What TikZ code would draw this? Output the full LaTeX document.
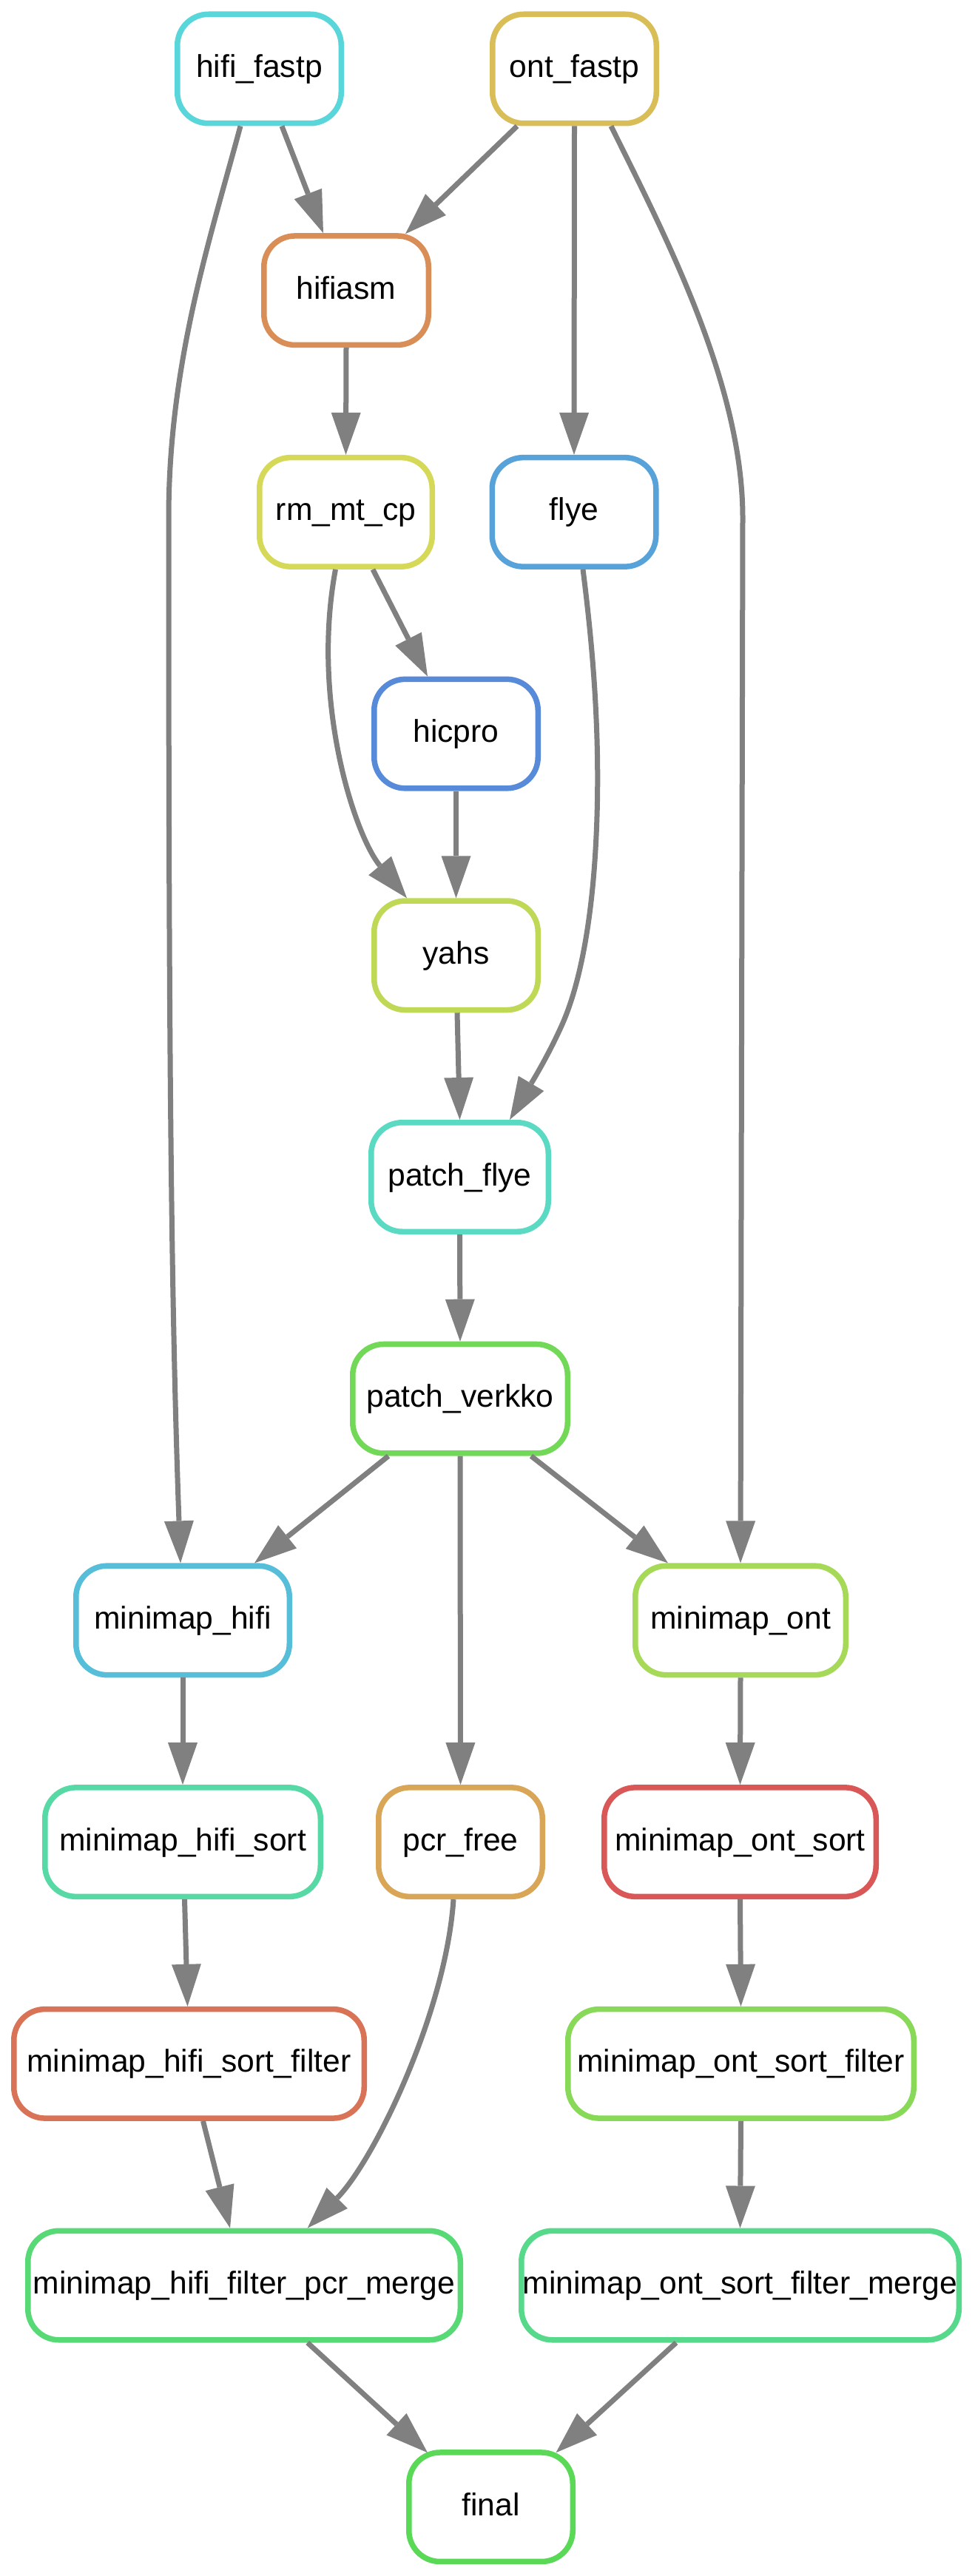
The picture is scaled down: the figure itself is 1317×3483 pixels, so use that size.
\documentclass[tikz,border=0pt]{standalone}
\usepackage{fontspec}
\setmainfont{Liberation Sans}
\usetikzlibrary{arrows.meta,calc}

% rule colours (HSV hues at s=0.6, v=0.85)
\definecolor{cHifiFastp}{RGB}{88,214,217}
\definecolor{cOntFastp}{RGB}{217,190,87}
\definecolor{cHifiasm}{RGB}{217,141,87}
\definecolor{cRmMtCp}{RGB}{214,217,87}
\definecolor{cFlye}{RGB}{87,162,217}
\definecolor{cHicpro}{RGB}{87,139,217}
\definecolor{cYahs}{RGB}{191,217,87}
\definecolor{cPatchFlye}{RGB}{90,217,195}
\definecolor{cPatchVerkko}{RGB}{113,217,87}
\definecolor{cMiniHifi}{RGB}{87,190,217}
\definecolor{cMiniOnt}{RGB}{166,217,87}
\definecolor{cHifiSort}{RGB}{87,217,165}
\definecolor{cPcrFree}{RGB}{217,166,87}
\definecolor{cOntSort}{RGB}{217,87,87}
\definecolor{cHifiSortFilter}{RGB}{217,115,87}
\definecolor{cOntSortFilter}{RGB}{136,217,87}
\definecolor{cHifiMerge}{RGB}{87,217,118}
\definecolor{cOntMerge}{RGB}{87,217,140}
\definecolor{cFinal}{RGB}{90,217,87}
\definecolor{linkgrey}{RGB}{128,128,128}

\tikzset{
  rule/.style={draw, rectangle, rounded corners=21pt, line width=3.75pt,
    minimum height=73.75pt, inner sep=0pt, fill=white,
    font=\fontsize{21.3pt}{25pt}\selectfont, text height=15pt, text depth=3.5pt},
  link/.style={draw=linkgrey, line width=3.5pt,
    -{Triangle[length=28.5pt,width=20pt,line width=0pt]}},
}

\begin{document}
\begin{tikzpicture}[x=0.5pt,y=-0.5pt]
  \fill[white] (0,0) rectangle (1317,3483);
  \useasboundingbox (0,0) rectangle (1317,3483);

  % rules, one rank per row
  \node[rule, draw=cHifiFastp, minimum width=110.75pt] (hififastp) at (350.5,93) {hifi\_fastp};
  \node[rule, draw=cOntFastp, minimum width=110.75pt] (ontfastp) at (776.5,93) {ont\_fastp};
  \node[rule, draw=cHifiasm, minimum width=111.25pt] (hifiasm) at (468,392.7) {hifiasm};
  \node[rule, draw=cRmMtCp, minimum width=116.75pt] (rmmtcp) at (467.5,692.4) {rm\_mt\_cp};
  \node[rule, draw=cFlye, minimum width=110.75pt] (flye) at (776,692.4) {flye};
  \node[rule, draw=cHicpro, minimum width=110.75pt] (hicpro) at (616.5,992.1) {hicpro};
  \node[rule, draw=cYahs, minimum width=110.75pt] (yahs) at (616.5,1291.8) {yahs};
  \node[rule, draw=cPatchFlye, minimum width=119.75pt] (patchflye) at (621.5,1591.5) {patch\_flye};
  \node[rule, draw=cPatchVerkko, minimum width=145.25pt] (patchverkko) at (622,1891.2) {patch\_verkko};
  \node[rule, draw=cMiniHifi, minimum width=144.25pt] (minihifi) at (247,2190.9) {minimap\_hifi};
  \node[rule, draw=cMiniOnt, minimum width=142.25pt] (miniont) at (1001,2190.9) {minimap\_ont};
  \node[rule, draw=cHifiSort, minimum width=186.25pt] (hifisort) at (247,2490.6) {minimap\_hifi\_sort};
  \node[rule, draw=cPcrFree, minimum width=110.75pt] (pcrfree) at (622.5,2490.6) {pcr\_free};
  \node[rule, draw=cOntSort, minimum width=183.75pt] (ontsort) at (1000.5,2490.6) {minimap\_ont\_sort};
  \node[rule, draw=cHifiSortFilter, minimum width=236.75pt] (hifisortfilter) at (255.5,2790.3) {minimap\_hifi\_sort\_filter};
  \node[rule, draw=cOntSortFilter, minimum width=233.75pt] (ontsortfilter) at (1001.5,2790.3) {minimap\_ont\_sort\_filter};
  \node[rule, draw=cHifiMerge, minimum width=292.25pt] (hifimerge) at (330,3090) {minimap\_hifi\_filter\_pcr\_merge};
  \node[rule, draw=cOntMerge, minimum width=295.75pt] (ontmerge) at (1000.5,3090) {minimap\_ont\_sort\_filter\_merge};
  \node[rule, draw=cFinal, minimum width=110.75pt] (final) at (663.5,3389.7) {final};

  % dependencies
  \draw[link] ($(hififastp.south)+(30.5,0)$) -- ($(hifiasm.north)+(-31,0)$);
  \draw[link] ($(ontfastp.south)+(-77.5,0)$) -- ($(hifiasm.north)+(80,1)$);
  \draw[link] (ontfastp.south) -- (flye.north);
  \draw[link] ($(ontfastp.south)+(49.5,0)$) .. controls (900,320) and (1004,520) .. (1004,700)
    -- (miniont.north);
  \draw[link] ($(hififastp.south)+(-25.5,0)$) .. controls (285,320) and (228,490) .. (228,700)
    .. controls (228,1400) and (231,1750) .. ($(minihifi.north)+(-3,0)$);
  \draw[link] (hifiasm.south) -- (rmmtcp.north);
  \draw[link] ($(rmmtcp.south)+(36.5,0)$) -- ($(hicpro.north)+(-38.5,0)$);
  \draw[link] ($(rmmtcp.south)+(-14,0)$) .. controls (420,950) and (480,1130)
    .. ($(yahs.north)+(-66.5,0)$);
  \draw[link] (hicpro.south) -- (yahs.north);
  \draw[link] ($(yahs.south)+(1.5,0)$) -- (patchflye.north);
  \draw[link] ($(flye.south)+(12,0)$) .. controls (802,880) and (812,1000) .. (806,1130)
    .. controls (800,1260) and (780,1340) .. (760,1385)
    .. controls (740,1430) and (715,1470) .. ($(patchflye.north)+(67.5,0)$);
  \draw[link] (patchflye.south) -- (patchverkko.north);
  \draw[link] ($(patchverkko.south)+(-97,0)$) -- ($(minihifi.north)+(97,0)$);
  \draw[link] ($(patchverkko.south)+(96,0)$) -- ($(miniont.north)+(-98,0)$);
  \draw[link] (patchverkko.south) -- (pcrfree.north);
  \draw[link] (minihifi.south) -- (hifisort.north);
  \draw[link] (miniont.south) -- (ontsort.north);
  \draw[link] ($(hifisort.south)+(2.5,0)$) -- ($(hifisortfilter.north)+(-2,0)$);
  \draw[link] ($(pcrfree.south)+(-9.5,0)$) .. controls (603,2720) and (506,2921)
    .. ($(hifimerge.north)+(85.7,0)$);
  \draw[link] ($(hifisortfilter.south)+(19,0)$) -- ($(hifimerge.north)+(-19,0)$);
  \draw[link] (ontsort.south) -- (ontsortfilter.north);
  \draw[link] (ontsortfilter.south) -- (ontmerge.north);
  \draw[link] ($(hifimerge.south)+(85.7,0)$) -- ($(final.north)+(-85.5,4)$);
  \draw[link] ($(ontmerge.south)+(-86.5,0)$) -- ($(final.north)+(88,4)$);
\end{tikzpicture}
\end{document}
